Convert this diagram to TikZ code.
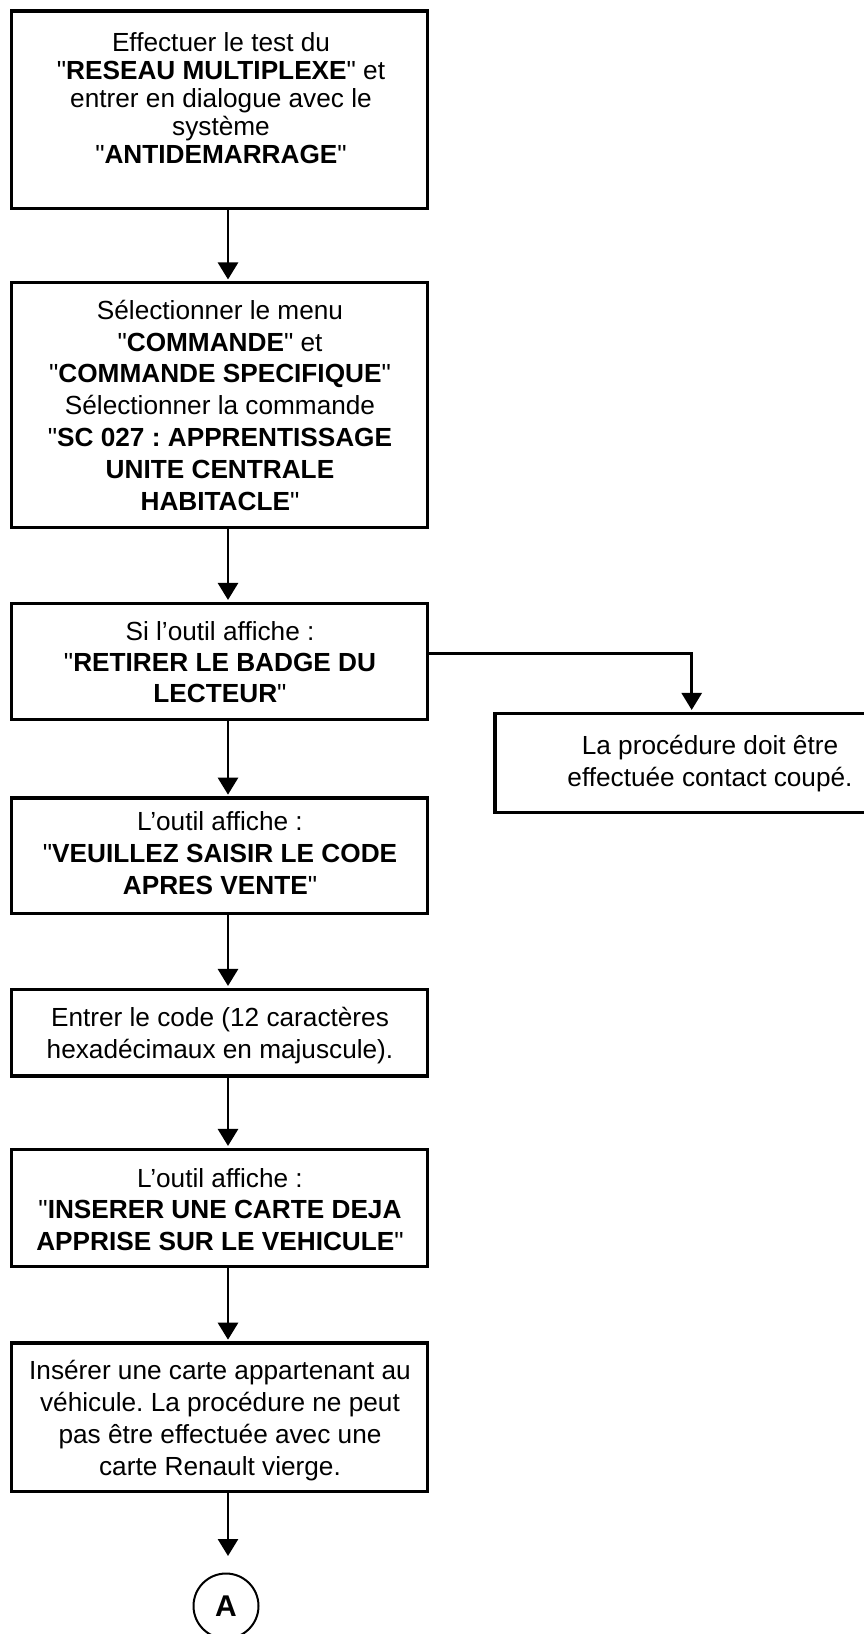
\documentclass[tikz,border=0pt]{standalone}
\usepackage{fontspec}
\setmainfont{Liberation Sans}[Ligatures=TeXOff]
\usetikzlibrary{arrows.meta}
\frenchspacing
\tikzset{
  box/.style={draw, line width=3.3pt, inner sep=0pt, rectangle},
  txt/.style={align=center, anchor=base, inner sep=0pt},
  arr/.style={line width=2.7pt, -{Triangle[length=17pt,width=20pt]}, shorten >=1.7pt},
  conn/.style={draw, circle, line width=2pt, inner sep=0pt, minimum size=65pt, font=\fontsize{30pt}{34pt}\selectfont\bfseries}
}
\newcommand{\fa}{\fontsize{26.2pt}{28pt}\selectfont\frenchspacing}
\newcommand{\fb}{\fontsize{26.2pt}{31.8pt}\selectfont\frenchspacing}
\newcommand{\fc}{\fontsize{26.2pt}{31pt}\selectfont\frenchspacing}
\begin{document}
\begin{tikzpicture}[x=1pt,y=-1pt]
\useasboundingbox (0,0) rectangle (864,1634);
\clip (0,0) rectangle (864,1634);
% boxes
\node[box, minimum width=416pt, minimum height=197.3pt] (b1) at (219.7,109.65) {};
\node[box, minimum width=416pt, minimum height=244.9pt] (b2) at (219.7,405.25) {};
\node[box, minimum width=416pt, minimum height=116pt] (b3) at (219.7,661.3) {};
\node[box, minimum width=430pt, minimum height=99.4pt] (bR) at (710,763) {};
\node[box, minimum width=416pt, minimum height=115.3pt] (b4) at (219.7,855.65) {};
\node[box, minimum width=416pt, minimum height=86.7pt] (b5) at (219.7,1032.65) {};
\node[box, minimum width=416pt, minimum height=117.2pt] (b6) at (219.7,1207.9) {};
\node[box, minimum width=416pt, minimum height=148.7pt] (b7) at (219.7,1417.4) {};
\node[conn] (cA) at (226,1606) {A};
% texts (anchored at the baseline of their last line)
\node[txt, font=\fa] (t1) at (221,163.3) {Effectuer le test du\\"\textbf{RESEAU MULTIPLEXE}" et\\entrer en dialogue avec le\\système\\"\textbf{ANTIDEMARRAGE}"};
\node[txt, font=\fb] (t2) at (220,510) {Sélectionner le menu\\"\textbf{COMMANDE}" et\\"\textbf{COMMANDE SPECIFIQUE}"\\Sélectionner la commande\\"\textbf{SC 027 : APPRENTISSAGE}\\\textbf{UNITE CENTRALE}\\\textbf{HABITACLE}"};
\node[txt, font=\fc] (t3) at (220,702) {Si l’outil affiche :\\"\textbf{RETIRER LE BADGE DU}\\\textbf{LECTEUR}"};
\node[txt, font=\fb] (tR) at (710,786.7) {La procédure doit être\\effectuée contact coupé.};
\node[txt, font=\fb] (t4) at (220,894) {L’outil affiche :\\"\textbf{VEUILLEZ SAISIR LE CODE}\\\textbf{APRES VENTE}"};
\node[txt, font=\fb] (t5) at (220,1058.3) {Entrer le code (12 caractères\\hexadécimaux en majuscule).};
\node[txt, font=\fb] (t6) at (220,1250.7) {L’outil affiche :\\"\textbf{INSERER UNE CARTE DEJA}\\\textbf{APPRISE SUR LE VEHICULE}"};
\node[txt, font=\fb] (t7) at (220,1475) {Insérer une carte appartenant au\\véhicule. La procédure ne peut\\pas être effectuée avec une\\carte Renault vierge.};
% connectors
\coordinate (ax) at (228,0);
\coordinate (rx) at (691.7,0);
\draw[arr] (b1.south -| ax) -- (b2.north -| ax);
\draw[arr] (b2.south -| ax) -- (b3.north -| ax);
\draw[arr] (b3.south -| ax) -- (b4.north -| ax);
\draw[arr] (b4.south -| ax) -- (b5.north -| ax);
\draw[arr] (b5.south -| ax) -- (b6.north -| ax);
\draw[arr] (b6.south -| ax) -- (b7.north -| ax);
\draw[arr, shorten >=16.5pt] (b7.south -| ax) -- (cA.north -| ax);
\draw[arr] ([yshift=8pt]b3.east) -| (bR.north -| rx);
\end{tikzpicture}
\end{document}
